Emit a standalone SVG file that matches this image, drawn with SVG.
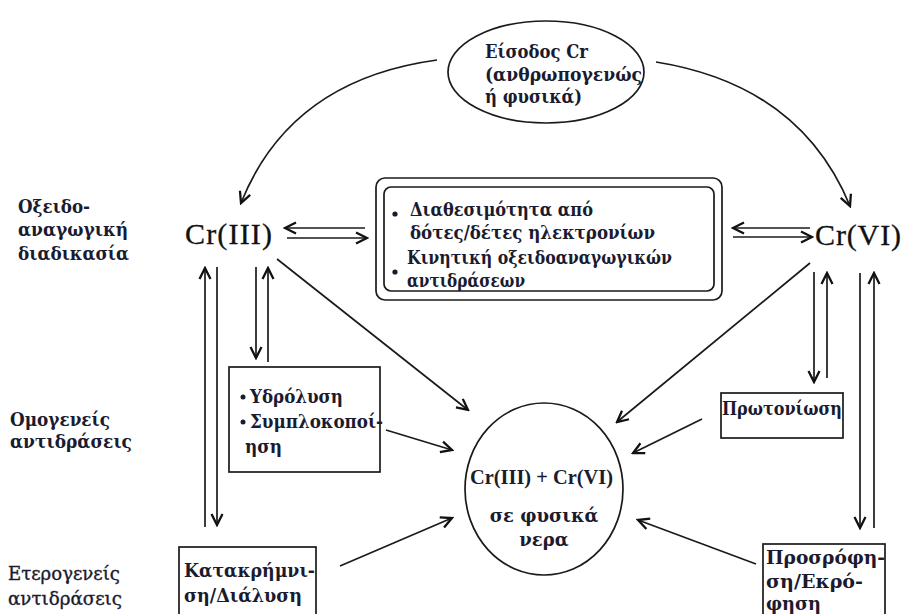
<svg xmlns="http://www.w3.org/2000/svg" width="903" height="614" viewBox="0 0 903 614">
<style>
text{font-family:"DejaVu Serif","Liberation Serif",serif;fill:#1b1b2f}
.b{font-weight:bold;font-size:18px}
.n{font-weight:normal;font-size:18px;stroke:#1b1b2f;stroke-width:0.35}
.big{font-family:"Liberation Serif",serif;font-size:30px;fill:#111;stroke:#111;stroke-width:0.3}
.shape{fill:none;stroke:#1a1a1a;stroke-width:1.7}
.ar{fill:none;stroke:#1a1a1a;stroke-width:1.7;marker-end:url(#ah)}
.dot{fill:#1b1b2f}
</style>
<defs>
<marker id="ah" viewBox="0 0 14 14" refX="12" refY="7" markerWidth="14" markerHeight="14" markerUnits="userSpaceOnUse" orient="auto">
<path d="M1,1.5 L12,7 L1,12.5" fill="none" stroke="#111" stroke-width="2.3"/>
</marker>
</defs>

<g id="labels">
<text class="b" x="18" y="213" textLength="72" lengthAdjust="spacingAndGlyphs">Οξειδο-</text>
<text class="b" x="18" y="236" textLength="110" lengthAdjust="spacingAndGlyphs">αναγωγική</text>
<text class="b" x="18" y="260" textLength="111" lengthAdjust="spacingAndGlyphs">διαδικασία</text>
<text class="b" x="10" y="426" textLength="100" lengthAdjust="spacingAndGlyphs">Ομογενείς</text>
<text class="b" x="10" y="448" textLength="122" lengthAdjust="spacingAndGlyphs">αντιδράσεις</text>
<text class="n" x="8" y="580" textLength="112" lengthAdjust="spacingAndGlyphs">Ετερογενείς</text>
<text class="n" x="8" y="605" textLength="114" lengthAdjust="spacingAndGlyphs">αντιδράσεις</text>
</g>

<g id="input">
<ellipse class="shape" cx="546" cy="72" rx="98" ry="51"/>
<text class="b" x="485" y="58" textLength="103" lengthAdjust="spacingAndGlyphs">Είσοδος Cr</text>
<text class="b" x="485" y="81" textLength="157" lengthAdjust="spacingAndGlyphs">(ανθρωπογενώς</text>
<text class="b" x="485" y="103" textLength="97" lengthAdjust="spacingAndGlyphs">ή φυσικά)</text>
</g>

<g id="cr3">
<text class="big" x="185" y="244" textLength="87">Cr(III)</text>
</g>

<g id="cr6">
<text class="big" x="815" y="245" textLength="86">Cr(VI)</text>
</g>

<g id="redox-box">
<rect class="shape" x="376" y="178" width="346" height="122" rx="9"/>
<rect class="shape" x="384" y="187" width="330" height="104" rx="7"/>
<circle class="dot" cx="395" cy="214" r="2.6"/>
<text class="b" x="410" y="216" textLength="183" lengthAdjust="spacingAndGlyphs">Διαθεσιμότητα από</text>
<text class="b" x="410" y="239" textLength="245" lengthAdjust="spacingAndGlyphs">δότες/δέτες ηλεκτρονίων</text>
<circle class="dot" cx="395" cy="272" r="2.6"/>
<text class="b" x="407" y="264" textLength="265" lengthAdjust="spacingAndGlyphs">Κινητική οξειδοαναγωγικών</text>
<text class="b" x="407" y="287" textLength="118" lengthAdjust="spacingAndGlyphs">αντιδράσεων</text>
</g>

<g id="homogeneous-box">
<rect class="shape" x="229" y="367" width="151" height="105"/>
<circle class="dot" cx="243" cy="397" r="2.5"/>
<text class="b" x="250" y="403" textLength="93" lengthAdjust="spacingAndGlyphs">Υδρόλυση</text>
<circle class="dot" cx="243" cy="422" r="2.5"/>
<text class="b" x="250" y="428" textLength="133" lengthAdjust="spacingAndGlyphs">Συμπλοκοποί-</text>
<text class="b" x="245" y="453" textLength="37" lengthAdjust="spacingAndGlyphs">ηση</text>
</g>

<g id="protonation-box">
<rect class="shape" x="721" y="393" width="122" height="45"/>
<text class="b" x="722" y="415" textLength="120" lengthAdjust="spacingAndGlyphs">Πρωτονίωση</text>
</g>

<g id="precipitation-box">
<rect class="shape" x="179" y="547" width="137" height="75"/>
<text class="b" x="184" y="577" textLength="131" lengthAdjust="spacingAndGlyphs">Κατακρήμνι-</text>
<text class="b" x="184" y="602" textLength="118" lengthAdjust="spacingAndGlyphs">ση/Διάλυση</text>
</g>

<g id="sorption-box">
<rect class="shape" x="763" y="544" width="122" height="75"/>
<text class="b" x="766" y="564" textLength="119" lengthAdjust="spacingAndGlyphs">Προσρόφη-</text>
<text class="b" x="766" y="588" textLength="97" lengthAdjust="spacingAndGlyphs">ση/Εκρό-</text>
<text class="b" x="766" y="610" textLength="55" lengthAdjust="spacingAndGlyphs">φηση</text>
</g>

<g id="water">
<ellipse class="shape" cx="544" cy="489" rx="79" ry="86"/>
<text x="470" y="484" textLength="143" lengthAdjust="spacingAndGlyphs" style="font-family:'Liberation Serif',serif;font-weight:bold;font-size:21px">Cr(III) + Cr(VI)</text>
<text class="b" x="544" y="522" text-anchor="middle">σε φυσικά</text>
<text class="b" x="544" y="546" text-anchor="middle">νερα</text>
</g>

<g id="connectors">
<path class="ar" d="M437,60 Q290,80 241,203"/>
<path class="ar" d="M656,62 Q800,85 850,206"/>
<line class="ar" x1="365" y1="228" x2="285" y2="228"/>
<line class="ar" x1="287" y1="238" x2="367" y2="238"/>
<line class="ar" x1="810" y1="228" x2="733" y2="228"/>
<line class="ar" x1="733" y1="237" x2="812" y2="237"/>
<line class="ar" x1="205" y1="527" x2="205" y2="268"/>
<line class="ar" x1="217" y1="267" x2="217" y2="525"/>
<line class="ar" x1="256" y1="267" x2="256" y2="358"/>
<line class="ar" x1="268" y1="362" x2="268" y2="268"/>
<line class="ar" x1="814" y1="272" x2="814" y2="382"/>
<line class="ar" x1="827" y1="378" x2="827" y2="273"/>
<line class="ar" x1="860" y1="273" x2="860" y2="528"/>
<line class="ar" x1="874" y1="528" x2="874" y2="273"/>
<line class="ar" x1="277" y1="259" x2="468" y2="410"/>
<line class="ar" x1="386" y1="430" x2="452" y2="450"/>
<line class="ar" x1="340" y1="566" x2="452" y2="518"/>
<line class="ar" x1="810" y1="263" x2="617" y2="422"/>
<line class="ar" x1="702" y1="419" x2="633" y2="453"/>
<line class="ar" x1="756" y1="564" x2="638" y2="520"/>
</g>
</svg>
